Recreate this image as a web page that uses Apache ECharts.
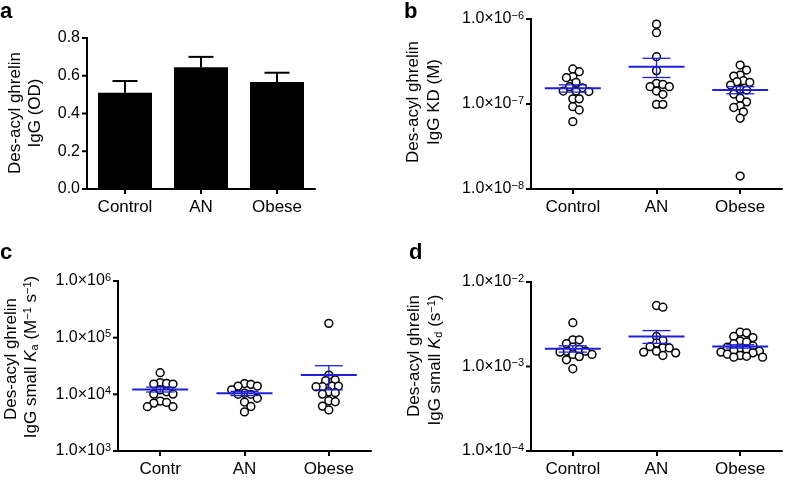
<!DOCTYPE html>
<html><head><meta charset="utf-8">
<script src="https://cdn.jsdelivr.net/npm/echarts@6/dist/echarts.min.js"></script>
<style>html,body{margin:0;padding:0;background:#fff}#c{width:788px;height:483px}</style>
</head><body><div id="c"></div>
<script>
// ---------- data ----------
const categories = ['Control', 'AN', 'Obese'];
const categoriesC = ['Contr', 'AN', 'Obese'];
const aTicks = [0, 0.2, 0.4, 0.6, 0.8];

// panel a: des-acyl ghrelin IgG (OD), mean and SEM
const aMeans = [0.51, 0.645, 0.567];
const aSem = [0.062, 0.055, 0.049];

// panel b: IgG KD (M)
const bControl = [2.58e-7, 2.4e-7, 2.1e-7, 2.04e-7, 1.8e-7, 1.6e-7, 1.55e-7, 1.42e-7, 1.42e-7, 1.4e-7, 1.15e-7, 1.15e-7, 0.93e-7, 0.85e-7, 0.62e-7];
const bAN = [8.7e-7, 6.9e-7, 3.6e-7, 2.47e-7, 1.75e-7, 1.7e-7, 1.6e-7, 1.6e-7, 1.42e-7, 1.3e-7, 0.99e-7, 0.99e-7];
const bObese = [2.87e-7, 2.51e-7, 2.19e-7, 2.13e-7, 1.88e-7, 1.83e-7, 1.8e-7, 1.67e-7, 1.5e-7, 1.46e-7, 1.31e-7, 1.17e-7, 1.06e-7, 0.95e-7, 0.91e-7, 0.81e-7, 0.68e-7, 0.142e-7];
const bMeans = [1.53e-7, 2.75e-7, 1.46e-7];
const bSem = [0.15e-7, 0.7e-7, 0.14e-7];
const bTicks = [1e-8, 1e-7, 1e-6];

// panel c: IgG small Ka (M-1 s-1)
const cControl = [24100, 16100, 15600, 15200, 15200, 12000, 11100, 10100, 10100, 7600, 7200, 7000, 6050, 6050];
const cAN = [15500, 15000, 14000, 14000, 12000, 10500, 10000, 10000, 8500, 7300, 6100, 4900];
const cObese = [179000, 21900, 17900, 17400, 14000, 14000, 13600, 13600, 11100, 10700, 10100, 7700, 7400, 6200, 5300];
const cMeans = [12200, 10400, 22000];
const cSem = [1200, 900, 10000];
const cTicks = [1e3, 1e4, 1e5, 1e6];

// panel d: IgG small Kd (s-1)
const dControl = [3.3e-3, 2.07e-3, 2.07e-3, 1.86e-3, 1.7e-3, 1.6e-3, 1.52e-3, 1.52e-3, 1.48e-3, 1.39e-3, 1.39e-3, 1.31e-3, 1.2e-3, 0.94e-3];
const dAN = [5.27e-3, 5.03e-3, 2.27e-3, 2.03e-3, 1.9e-3, 1.72e-3, 1.66e-3, 1.66e-3, 1.52e-3, 1.48e-3, 1.45e-3, 1.35e-3];
const dObese = [2.55e-3, 2.5e-3, 2.27e-3, 2.2e-3, 2.0e-3, 1.95e-3, 1.86e-3, 1.75e-3, 1.7e-3, 1.65e-3, 1.6e-3, 1.55e-3, 1.52e-3, 1.48e-3, 1.45e-3, 1.4e-3, 1.35e-3, 1.32e-3, 1.29e-3, 1.29e-3];
const dMeans = [1.62e-3, 2.27e-3, 1.73e-3];
const dSem = [0.14e-3, 0.39e-3, 0.08e-3];
const dTicks = [1e-4, 1e-3, 1e-2];

// ---------- styling ----------
const FONT = "'Liberation Sans', Arial, Helvetica, sans-serif";
const BLUE = '#1f1fdc';

const chart = echarts.init(document.getElementById('c'), null, {renderer: 'canvas'});

function sciLabel(v) {
  const e = Math.round(Math.log10(v));
  return '{b|1.0×10}{s|' + (e < 0 ? '−' : '') + Math.abs(e) + '}';
}
function sciRich() {
  return {
    b: {fontSize: 16, fontFamily: FONT, color: '#000'},
    s: {fontSize: 11, fontFamily: FONT, color: '#000', padding: [0, 0, 7, 0]}
  };
}
function axisLineStyle() { return {show: true, lineStyle: {color: '#000', width: 2}}; }
function axisTickStyle(align) {
  return {show: true, length: 5, inside: false, alignWithLabel: !!align, lineStyle: {color: '#000', width: 2}};
}

function catAxis(grid, data) {
  return {
    type: 'category', gridIndex: grid, data: data, boundaryGap: true,
    axisLine: axisLineStyle(), axisTick: axisTickStyle(true),
    axisLabel: {color: '#000', fontSize: 17, fontFamily: FONT, margin: 10},
    splitLine: {show: false}
  };
}
function logY(grid, ticks) {
  return {
    type: 'log', logBase: 10, gridIndex: grid, min: ticks[0], max: ticks[ticks.length - 1],
    axisLine: {show: false}, axisTick: {show: false},
    axisLabel: {formatter: sciLabel, rich: sciRich(), margin: 7},
    splitLine: {show: false}, minorTick: {show: false}
  };
}

// vertical axis line + outward ticks, placed only through api.coord of each grid's scales
function yAxisItem(params, api) {
  const t = api.value(1);
  const p0 = api.coord([0, t]);
  const p1 = api.coord([1, t]);
  const left = p0[0] - (p1[0] - p0[0]) / 2;
  const st = {stroke: '#000', lineWidth: 2};
  const children = [{type: 'line', shape: {x1: left - 5, y1: p0[1], x2: left, y2: p0[1]}, style: st}];
  if (params.dataIndex === 0) {
    const lo = api.coord([0, api.value(2)]);
    const hi = api.coord([0, api.value(3)]);
    children.push({type: 'line', shape: {x1: left, y1: hi[1] - 1, x2: left, y2: lo[1] + 1}, style: st});
  }
  return {type: 'group', children: children};
}
function yAxisSeries(idx, ticks) {
  const lo = ticks[0], hi = ticks[ticks.length - 1];
  return {type: 'custom', xAxisIndex: idx, yAxisIndex: idx, renderItem: yAxisItem, clip: false, silent: true, z: 6,
    data: ticks.map(t => [0, t, lo, hi])};
}

function meanItem(params, api) {
  const x = api.value(0), m = api.value(1), s = api.value(2);
  const pm = api.coord([x, m]);
  const pu = api.coord([x, m + s]);
  const pl = api.coord([x, m - s]);
  const thin = {stroke: BLUE, lineWidth: 1.3};
  return {type: 'group', children: [
    {type: 'line', shape: {x1: pu[0], y1: pu[1], x2: pl[0], y2: pl[1]}, style: thin},
    {type: 'line', shape: {x1: pu[0] - 14, y1: pu[1], x2: pu[0] + 14, y2: pu[1]}, style: thin},
    {type: 'line', shape: {x1: pl[0] - 14, y1: pl[1], x2: pl[0] + 14, y2: pl[1]}, style: thin},
    {type: 'line', shape: {x1: pm[0] - 28, y1: pm[1], x2: pm[0] + 28, y2: pm[1]}, style: {stroke: BLUE, lineWidth: 2}}
  ]};
}
function errItem(params, api) {
  const top = api.coord([api.value(0), api.value(1)]);
  const up = api.coord([api.value(0), api.value(1) + api.value(2)]);
  const st = {stroke: '#000', lineWidth: 2};
  return {type: 'group', children: [
    {type: 'line', shape: {x1: top[0], y1: top[1], x2: up[0], y2: up[1]}, style: st},
    {type: 'line', shape: {x1: up[0] - 12.5, y1: up[1], x2: up[0] + 12.5, y2: up[1]}, style: st}
  ]};
}
// open circle, shifted horizontally by the computed beeswarm offset (dimension 2, in px)
function dotItem(params, api) {
  const c = api.coord([api.value(0), api.value(1)]);
  return {type: 'circle', shape: {cx: c[0] + api.value(2), cy: c[1], r: 3.9},
    style: {fill: '#fff', stroke: '#000', lineWidth: 1.5}};
}

function dotSeries(id, xi, yi, groups) {
  const data = [];
  groups.forEach((vals, gi) => vals.forEach(v => data.push([gi, v, 0])));
  return {id: id, type: 'custom', xAxisIndex: xi, yAxisIndex: yi, renderItem: dotItem, data: data,
    z: 3, silent: true, clip: false};
}
function meanSeries(xi, yi, means, sems) {
  return {type: 'custom', xAxisIndex: xi, yAxisIndex: yi, renderItem: meanItem, z: 5, silent: true,
    data: means.map((m, i) => [i, m, sems[i]])};
}

const bGroups = [bControl, bAN, bObese];
const cGroups = [cControl, cAN, cObese];
const dGroups = [dControl, dAN, dObese];

const option = {
  animation: false,
  backgroundColor: '#fff',
  textStyle: {fontFamily: FONT},
  grid: [
    {left: 87, top: 38, width: 228, height: 151},
    {left: 531, top: 19, width: 251, height: 170},
    {left: 118, top: 281, width: 253, height: 170},
    {left: 531, top: 282, width: 251, height: 169}
  ],
  xAxis: [
    catAxis(0, categories),
    catAxis(1, categories),
    catAxis(2, categoriesC),
    catAxis(3, categories)
  ],
  yAxis: [
    {type: 'value', gridIndex: 0, min: aTicks[0], max: aTicks[aTicks.length - 1], interval: 0.2,
      axisLine: {show: false}, axisTick: {show: false},
      axisLabel: {color: '#000', fontSize: 16, fontFamily: FONT, margin: 7, formatter: v => v.toFixed(1)},
      splitLine: {show: false}},
    logY(1, bTicks), logY(2, cTicks), logY(3, dTicks)
  ],
  series: [
    {type: 'bar', xAxisIndex: 0, yAxisIndex: 0, data: aMeans, barWidth: 54, itemStyle: {color: '#000'}, silent: true},
    {type: 'custom', xAxisIndex: 0, yAxisIndex: 0, renderItem: errItem, silent: true,
      data: aMeans.map((m, i) => [i, m, aSem[i]])},
    dotSeries('sb', 1, 1, bGroups), meanSeries(1, 1, bMeans, bSem),
    dotSeries('sc', 2, 2, cGroups), meanSeries(2, 2, cMeans, cSem),
    dotSeries('sd', 3, 3, dGroups), meanSeries(3, 3, dMeans, dSem),
    yAxisSeries(0, aTicks), yAxisSeries(1, bTicks), yAxisSeries(2, cTicks), yAxisSeries(3, dTicks)
  ],
  graphic: [
    {type: 'text', x: 0, y: 1, style: {text: 'a', fontSize: 22, fontWeight: 'bold', fontFamily: FONT, fill: '#000', align: 'left', verticalAlign: 'top'}},
    {type: 'text', x: 404, y: 1, style: {text: 'b', fontSize: 22, fontWeight: 'bold', fontFamily: FONT, fill: '#000', align: 'left', verticalAlign: 'top'}},
    {type: 'text', x: 0, y: 242, style: {text: 'c', fontSize: 22, fontWeight: 'bold', fontFamily: FONT, fill: '#000', align: 'left', verticalAlign: 'top'}},
    {type: 'text', x: 409, y: 242, style: {text: 'd', fontSize: 22, fontWeight: 'bold', fontFamily: FONT, fill: '#000', align: 'left', verticalAlign: 'top'}}
  ]
};

function titleText(x, y, text) {
  return {type: 'text', x: x, y: y, rotation: Math.PI / 2,
    style: {text: text, fontSize: 17, fontFamily: FONT, fill: '#000', align: 'center', verticalAlign: 'middle',
      rich: {
        i: {fontSize: 17, fontStyle: 'italic', fontFamily: FONT, fill: '#000'},
        sub: {fontSize: 11, fontFamily: FONT, fill: '#000', padding: [7, 0, 0, 0]},
        sup: {fontSize: 11, fontFamily: FONT, fill: '#000', padding: [0, 0, 7, 0]}
      }}};
}
option.graphic.push(
  titleText(15, 113, 'Des-acyl ghrelin'), titleText(35, 113, 'IgG (OD)'),
  titleText(413, 102, 'Des-acyl ghrelin'), titleText(434, 102, 'IgG KD (M)'),
  titleText(11, 359, 'Des-acyl ghrelin'), titleText(31, 357, 'IgG small {i|K}{sub|a} (M{sup|−1} s{sup|−1})'),
  titleText(414, 356, 'Des-acyl ghrelin'), titleText(435, 360, 'IgG small {i|K}{sub|d} (s{sup|−1})')
);

chart.setOption(option);

// beeswarm layout computed from the library's own pixel mapping (overlap allowed, like the original)
function swarm(seriesId, seriesIndex, groups) {
  const dia = 6.4, step = 3.2;
  const data = [];
  groups.forEach((vals, gi) => {
    const pts = vals.map(v => ({v: v, y: chart.convertToPixel({seriesIndex: seriesIndex}, [gi, v])[1]}));
    pts.sort((a, b) => a.y - b.y);
    const placed = [];
    pts.forEach(p => {
      for (let j = 0; j < 80; j++) {
        const off = j === 0 ? 0 : (j % 2 ? 1 : -1) * Math.ceil(j / 2) * step;
        if (placed.every(q => (q.x - off) * (q.x - off) + (q.y - p.y) * (q.y - p.y) >= dia * dia)) {
          placed.push({x: off, y: p.y});
          data.push([gi, p.v, off]);
          break;
        }
      }
    });
  });
  return {id: seriesId, data: data};
}
chart.setOption({series: [swarm('sb', 2, bGroups), swarm('sc', 4, cGroups), swarm('sd', 6, dGroups)]});
</script>
</body></html>
